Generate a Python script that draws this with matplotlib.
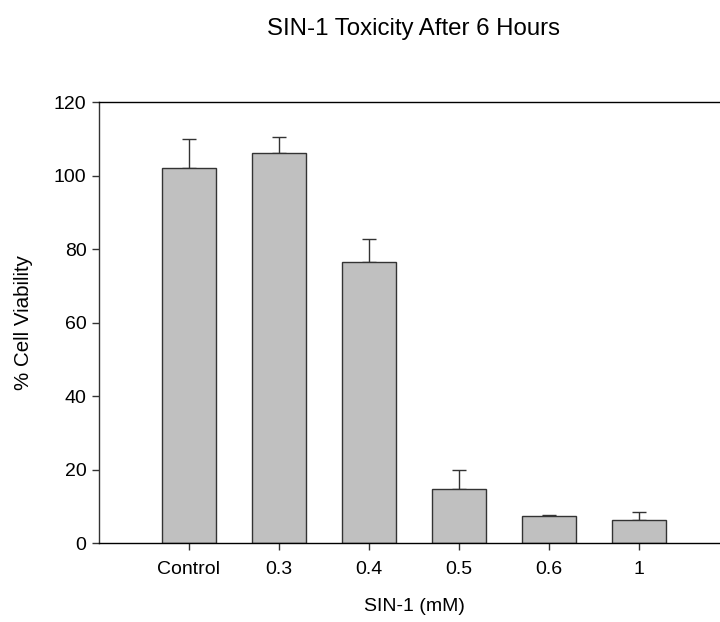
import matplotlib.pyplot as plt
import numpy as np

plt.rcParams['font.family'] = ['Liberation Sans', 'DejaVu Sans']

labels = ['Control', '0.3', '0.4', '0.5', '0.6', '1']
viability = [102.0, 106.1, 76.4, 14.8, 7.3, 6.3]
err_upper = [8.0, 4.3, 6.2, 5.1, 0.2, 2.2]

x = np.arange(1, len(labels) + 1)

fig = plt.figure(figsize=(7.2, 6.22), dpi=100)
ax = fig.add_axes([0.1375, 0.127, 0.875, 0.709])

ax.bar(x, viability, width=0.6, color='#c0c0c0', edgecolor='#333333', linewidth=1.0, zorder=2)
ax.errorbar(x, viability, yerr=[np.zeros(len(x)), err_upper], fmt='none',
            ecolor='#333333', elinewidth=1.0, capsize=5, capthick=1.0, zorder=1)

ax.set_xlim(0, 7)
ax.set_ylim(0, 120)
ax.set_xticks(x)
ax.set_xticklabels(labels)
ax.set_yticks(np.arange(0, 121, 20))
ax.tick_params(direction='out', length=4.7, width=1, color='#333333', labelsize=14)
ax.tick_params(axis='x', pad=8.5)
ax.tick_params(axis='y', pad=4.3)
ax.spines['right'].set_visible(False)
for s in ['left', 'top', 'bottom']:
    ax.spines[s].set_linewidth(1.0)
ax.spines['left'].set_color('#333333')

ax.set_xlabel('SIN-1 (mM)', fontsize=14)
ax.xaxis.set_label_coords(0.5, -0.125)
ax.set_ylabel('% Cell Viability', fontsize=14.8)
ax.yaxis.set_label_coords(-0.104, 0.5)
fig.text(0.575, 0.9437, 'SIN-1 Toxicity After 6 Hours', ha='center', va='baseline', fontsize=17.3)

fig.savefig('out.png', dpi=100)
